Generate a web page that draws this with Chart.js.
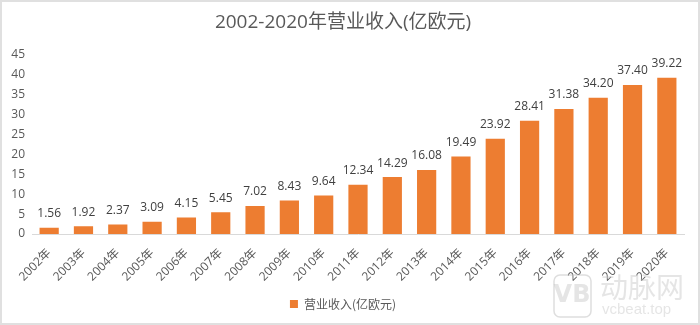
<!DOCTYPE html>
<html>
<head>
<meta charset="UTF-8">
<title>营业收入</title>
<style>
html, body { margin: 0; padding: 0; background: #fff; }
.frame {
	width: 696px;
	height: 321px;
	border: 2px solid #e0e0e0;
}
canvas { display: block; }
</style>
<script src="https://cdn.jsdelivr.net/npm/chart.js@4/dist/chart.umd.min.js"></script>
</head>
<body>
<div class="frame"><canvas id="chart" width="696" height="321"></canvas></div>
<script>
// datos
var years = ['2002年','2003年','2004年','2005年','2006年','2007年','2008年','2009年','2010年','2011年',
	'2012年','2013年','2014年','2015年','2016年','2017年','2018年','2019年','2020年'];
var revenue = [1.56, 1.92, 2.37, 3.09, 4.15, 5.45, 7.02, 8.43, 9.64, 12.34,
	14.29, 16.08, 19.49, 23.92, 28.41, 31.38, 34.20, 37.40, 39.22];
var seriesName = '营业收入(亿欧元)';
var titleText = '2002-2020年营业收入(亿欧元)';

var fontFamily = "'Open Sans', 'Noto Sans CJK SC', sans-serif";

// etiquetas encima de cada barra
var valueLabels = {
	id: 'valueLabels',
	afterDatasetsDraw: function(chart) {
		var ctx = chart.ctx;
		var meta = chart.getDatasetMeta(0);
		ctx.save();
		ctx.fillStyle = '#404040';
		ctx.font = "12px " + fontFamily;
		ctx.textAlign = 'center';
		ctx.textBaseline = 'middle';
		meta.data.forEach(function(bar, i) {
			ctx.fillText(revenue[i].toFixed(2), bar.x, bar.y - 14);
		});
		ctx.restore();
	}
};

// marca de agua (abajo a la derecha)
var watermark = {
	id: 'watermark',
	afterDraw: function(chart) {
		var ctx = chart.ctx;
		ctx.save();
		ctx.strokeStyle = 'rgba(190,190,190,0.5)';
		ctx.fillStyle = 'rgba(190,190,190,0.4)';
		ctx.lineWidth = 1.5;
		ctx.beginPath();
		ctx.roundRect(552, 273, 37, 42, 6);
		ctx.stroke();
		ctx.font = "bold 24px 'DejaVu Sans', sans-serif";
		ctx.textAlign = 'center';
		ctx.textBaseline = 'middle';
		ctx.fillText('VB', 570, 294);
		ctx.textAlign = 'left';
		ctx.font = "28px 'Noto Sans CJK SC', sans-serif";
		ctx.fillText('动脉网', 598, 285);
		ctx.font = "15px 'Liberation Sans', sans-serif";
		ctx.fillText('vcbeat.top', 600, 308);
		ctx.restore();
	}
};

var ctx = document.getElementById('chart').getContext('2d');
new Chart(ctx, {
	type: 'bar',
	data: {
		labels: years,
		datasets: [{
			label: seriesName,
			data: revenue,
			backgroundColor: '#ED7D31',
			borderWidth: 0,
			categoryPercentage: 1.0,
			barPercentage: 0.56
		}]
	},
	options: {
		responsive: false,
		animation: false,
		layout: { padding: { left: 0, right: 14, top: 0, bottom: 3 } },
		plugins: {
			title: {
				display: true,
				text: titleText,
				color: '#595959',
				font: { family: fontFamily, size: 19, weight: 'normal' },
				padding: { top: 9, bottom: 21 }
			},
			legend: {
				position: 'bottom',
				labels: {
					color: '#595959',
					font: { family: "'Noto Sans CJK SC', sans-serif", size: 12 },
					boxWidth: 8,
					boxHeight: 8,
					padding: 10
				}
			},
			tooltip: { enabled: false }
		},
		scales: {
			x: {
				grid: { display: false, drawTicks: false },
				border: { color: '#d9d9d9' },
				ticks: {
					color: '#595959',
					font: { family: fontFamily, size: 12 },
					minRotation: 45,
					maxRotation: 45,
					padding: 12
				},
				afterFit: function(scale) { scale.height = 54; }
			},
			y: {
				min: 0,
				max: 45,
				grid: { display: false, drawTicks: false },
				border: { display: false },
				ticks: {
					stepSize: 5,
					color: '#595959',
					font: { family: fontFamily, size: 12 },
					padding: 7
				},
				afterFit: function(scale) { scale.width = 30; }
			}
		}
	},
	plugins: [valueLabels, watermark]
});
</script>
</body>
</html>
